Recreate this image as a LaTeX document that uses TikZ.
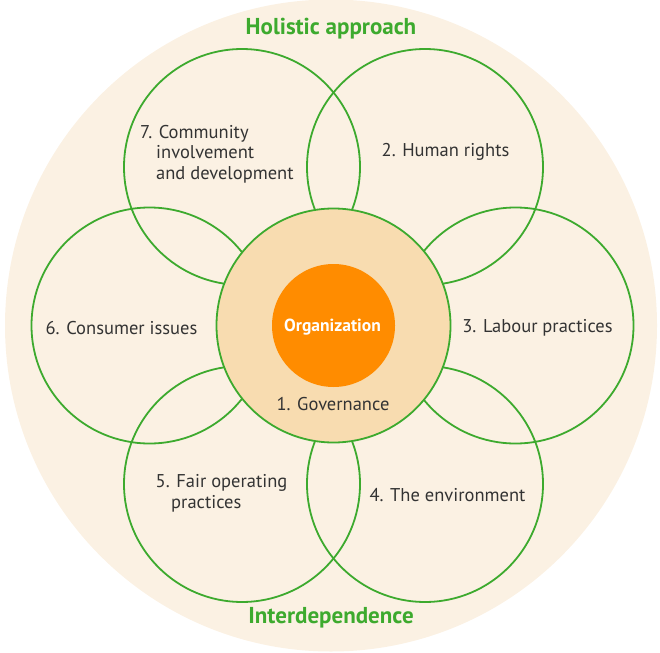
\documentclass[tikz,border=0pt]{standalone}
\usepackage{fontspec}
\setmainfont{PT Sans}
\usetikzlibrary{calc}
\definecolor{bgc}{HTML}{FBF1E3}
\definecolor{govc}{HTML}{F8DCB0}
\definecolor{orgc}{HTML}{FF8C00}
\definecolor{grn}{HTML}{3DAA2E}
\definecolor{txt}{HTML}{333333}
\begin{document}
\begin{tikzpicture}[x=1pt,y=-1pt,
  ring/.style={circle, draw=grn, line width=1.8pt, minimum size=236pt, inner sep=0pt},
  lbl/.style={text=txt, font=\fontsize{18.5}{20.5}\selectfont, inner sep=0pt, align=left},
  head/.style={text=grn, font=\fontsize{23}{26}\selectfont\bfseries, inner sep=0pt}]
\useasboundingbox (0,0) rectangle (660,652);
\coordinate (c) at (333.5,325.5);
\node[circle, fill=bgc, minimum size=652pt, inner sep=0pt] (bg) at (331,325.5) {};
% six outer circles
\node[ring] (r2) at ($(c)+(-60:183)$) {};
\node[ring] (r3) at ($(c)+(0:182)$) {};
\node[ring] (r4) at ($(c)+(60:183)$) {};
\node[ring] (r5) at ($(c)+(120:183)$) {};
\node[ring] (r6) at ($(c)+(180:184)$) {};
\node[ring] (r7) at ($(c)+(240:183)$) {};
% governance and organization
\node[circle, draw=grn, line width=1.8pt, fill=govc, minimum size=234pt, inner sep=0pt] (gov) at (c) {};
\node[circle, fill=orgc, minimum size=123pt, inner sep=0pt] (org) at (c) {};
\node[text=white, font=\fontsize{17.5}{19}\selectfont\bfseries, inner sep=0pt] (orgt) at (332.5,327) {Organization};
\node[lbl] (govt) at (333,404) {1. Governance};
% labels
\node[lbl, anchor=west] (t7) at (140,154) {7. Community\\\hspace*{16pt}involvement\\\hspace*{16pt}and development};
\node[lbl] (t2) at (445.5,152) {2. Human rights};
\node[lbl] (t6) at (121.5,328) {6. Consumer issues};
\node[lbl] (t3) at (537.5,328) {3. Labour practices};
\node[lbl, anchor=west] (t5) at (155.5,493.5) {5. Fair operating\\\hspace*{15.5pt}practices};
\node[lbl] (t4) at (447.5,495) {4. The environment};
\node[head] (h1) at (331,29) {Holistic approach};
\node[head] (h2) at (331,618) {Interdependence};
\end{tikzpicture}
\end{document}
